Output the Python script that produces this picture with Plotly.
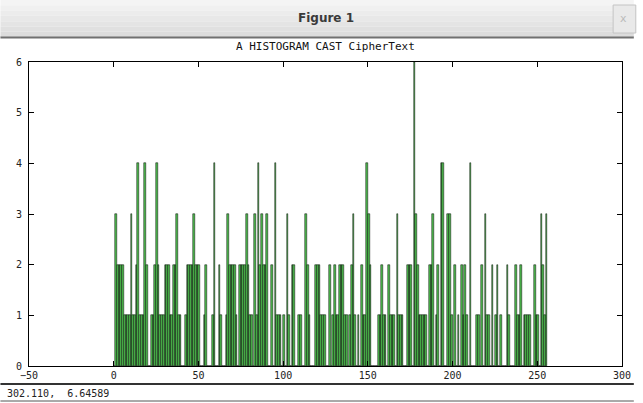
import numpy as np
import plotly.graph_objects as go

# ---- data (histogram of byte values 0..255) ----
counts = [
    0, 3, 2, 2, 2, 2, 1, 1, 1, 1, 3, 1, 1, 2, 4, 1, 1, 1, 4, 2,
    0, 0, 1, 1, 2, 4, 2, 1, 1, 1, 2, 2, 2, 1, 1, 2, 2, 3, 1, 1,
    0, 0, 1, 2, 2, 2, 2, 3, 2, 2, 2, 0, 0, 1, 2, 0, 0, 0, 1, 4,
    0, 0, 2, 1, 0, 0, 1, 3, 2, 2, 2, 2, 1, 0, 2, 2, 2, 2, 3, 2,
    1, 1, 0, 3, 1, 4, 2, 3, 2, 2, 3, 0, 0, 2, 0, 4, 1, 1, 1, 0,
    1, 0, 3, 1, 0, 2, 2, 0, 0, 1, 1, 0, 0, 3, 2, 1, 0, 0, 0, 2,
    2, 2, 1, 1, 1, 0, 0, 2, 0, 1, 2, 1, 1, 2, 2, 2, 1, 1, 0, 1,
    2, 3, 1, 0, 1, 0, 2, 1, 1, 4, 3, 2, 0, 0, 0, 0, 1, 1, 2, 1,
    1, 0, 2, 1, 1, 1, 0, 3, 1, 1, 1, 0, 0, 2, 2, 2, 0, 6, 3, 2,
    1, 1, 1, 1, 1, 0, 2, 2, 3, 0, 1, 2, 0, 4, 4, 0, 0, 3, 3, 1,
    0, 2, 0, 1, 0, 2, 1, 2, 1, 0, 4, 0, 0, 0, 1, 1, 0, 2, 0, 3,
    1, 1, 0, 2, 0, 1, 2, 0, 1, 0, 0, 0, 2, 1, 0, 0, 0, 2, 1, 1,
    2, 0, 1, 1, 1, 1, 0, 0, 2, 1, 1, 0, 3, 2, 1, 3,
]
byte_values = list(range(256))
x_ticks = [-50, 0, 50, 100, 150, 200, 250, 300]
y_ticks = [0, 1, 2, 3, 4, 5, 6]
title_text = "A HISTOGRAM CAST CipherText"
window_title = "Figure 1"
status_text = "302.110,  6.64589"

# ---- layout geometry (pixels) ----
W, H = 643, 403
ML, MR, MT, MB = 29, 12, 62, 37
PW, PH = W - ML - MR, H - MT - MB


def px(x):
    return (x - ML) / PW


def py(y):
    return (H - MB - y) / PH


centers = np.array(byte_values) + 0.5

fig = go.Figure()
fig.add_trace(go.Bar(
    x=centers, y=counts, width=1.0,
    marker=dict(color="#4fc24f", line=dict(color="#000000", width=0.5)),
    hoverinfo="skip",
))

mono = "DejaVu Sans Mono"
axis_common = dict(
    showgrid=False, zeroline=False, showline=True, linecolor="#000000",
    linewidth=1, mirror="allticks", ticks="inside", ticklen=5,
    tickcolor="#000000", tickfont=dict(family=mono, size=10, color="#222222"),
)

fig.update_layout(
    width=W, height=H,
    margin=dict(l=ML, r=MR, t=MT, b=MB),
    paper_bgcolor="#ffffff", plot_bgcolor="#ffffff",
    showlegend=False, bargap=0,
    xaxis=dict(range=[-50, 300], tickvals=x_ticks, **axis_common),
    yaxis=dict(range=[0, 6], tickvals=y_ticks, ticklabelstandoff=4, **axis_common),
)

shapes = []
# window title bar gradient
grad = ["#f4f4f4", "#f0f0f0", "#ececec", "#e8e8e8", "#e4e4e4", "#e0e0e0", "#dcdcdc"]
n = len(grad)
for i, c in enumerate(grad):
    y0 = i * 37 / n
    y1 = (i + 1) * 37 / n
    shapes.append(dict(type="rect", xref="paper", yref="paper",
                       x0=px(0), x1=px(W), y0=py(y1), y1=py(y0),
                       fillcolor=c, line=dict(width=0), layer="below"))
shapes.append(dict(type="line", xref="paper", yref="paper",
                   x0=px(0), x1=px(W), y0=py(37.5), y1=py(37.5),
                   line=dict(color="#707070", width=2)))
# close button
shapes.append(dict(type="rect", xref="paper", yref="paper",
                   x0=px(622), x1=px(645), y0=py(33), y1=py(5),
                   fillcolor="#e9e9e9", line=dict(color="#c4c4c4", width=1)))
# status bar lines
shapes.append(dict(type="line", xref="paper", yref="paper",
                   x0=px(0), x1=px(W), y0=py(384), y1=py(384),
                   line=dict(color="#333333", width=2)))
shapes.append(dict(type="line", xref="paper", yref="paper",
                   x0=px(0), x1=px(W), y0=py(401), y1=py(401),
                   line=dict(color="#555555", width=1)))
fig.update_layout(shapes=shapes)

annotations = [
    dict(text="<b>" + window_title + "</b>", x=px(330), y=py(18), xref="paper", yref="paper",
         showarrow=False, font=dict(family="DejaVu Sans", size=12, color="#3a3a3a"),
         xanchor="center", yanchor="middle"),
    dict(text="x", x=px(633), y=py(18), xref="paper", yref="paper",
         showarrow=False, font=dict(family="DejaVu Sans", size=11, color="#bbbbbb"),
         xanchor="center", yanchor="middle"),
    dict(text=title_text, x=px(330), y=py(47), xref="paper", yref="paper",
         showarrow=False, font=dict(family=mono, size=11, color="#111111"),
         xanchor="center", yanchor="middle"),
    dict(text=status_text, x=px(5), y=py(393), xref="paper", yref="paper",
         showarrow=False, font=dict(family=mono, size=10, color="#222222"),
         xanchor="left", yanchor="middle"),
]
fig.update_layout(annotations=annotations)

fig.write_html("out.html")
